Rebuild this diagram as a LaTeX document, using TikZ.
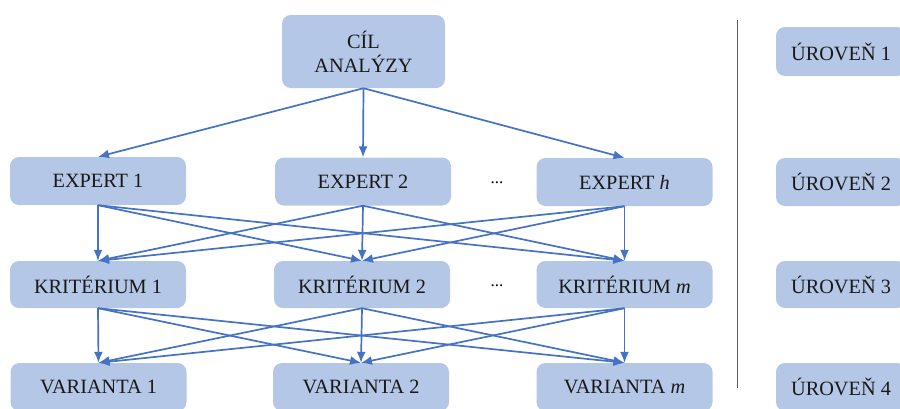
\documentclass[tikz,border=0pt]{standalone}
\usepackage{fontspec}
\setmainfont{Liberation Serif}
\usetikzlibrary{arrows.meta}
\definecolor{boxfill}{HTML}{B4C7E7}
\definecolor{arrowblue}{HTML}{4472C4}
\begin{document}
\begin{tikzpicture}[x=1pt,y=-1pt,
  box/.style={fill=boxfill, rounded corners=9pt, minimum width=176pt, minimum height=48pt,
     inner sep=0pt, font=\fontsize{20.3}{24}\selectfont, text=black!90, align=center},
  lvl/.style={box, minimum width=130pt},
  conn/.style={draw=arrowblue, line width=1.7pt, -{Latex[length=11pt,width=9pt]}},
  dots/.style={font=\fontsize{17}{20}\selectfont, inner sep=0pt}
]
\useasboundingbox (0,0) rectangle (900,408);
\clip (0,0) rectangle (900,408);
% nodes
\node[box, minimum width=163pt, minimum height=73pt] (goal) at (363.5,51.5) {CÍL\\ANALÝZY};
\node[box] (e1) at (98,181) {EXPERT 1};
\node[box] (e2) at (363,181.5) {EXPERT 2};
\node[box] (eh) at (624.5,182) {EXPERT \textit{h}};
\node[box, minimum height=47pt] (k1) at (98,284.5) {KRITÉRIUM 1};
\node[box, minimum height=47pt] (k2) at (362,284.5) {KRITÉRIUM 2};
\node[box, minimum height=47pt] (km) at (624.5,284.5) {KRITÉRIUM \textit{m}};
\node[box] (v1) at (98.5,387) {VARIANTA 1};
\node[box] (v2) at (361,387) {VARIANTA 2};
\node[box] (vm) at (624.5,387) {VARIANTA \textit{m}};
\node[dots] (d1) at (497,183) {...};
\node[dots] (d2) at (497,285.5) {...};
\node[lvl, minimum height=49pt] (u1) at (841,51.5) {ÚROVEŇ 1};
\node[lvl] (u2) at (841,182) {ÚROVEŇ 2};
\node[lvl, minimum height=47pt] (u3) at (841,284.5) {ÚROVEŇ 3};
\node[lvl] (u4) at (841,387) {ÚROVEŇ 4};
% separator
\coordinate (s1) at (737,20);
\coordinate (s2) at (737,388);
\draw[black!65, line width=1pt] (s1) -- (s2);
% connectors
\foreach \t in {e1,e2,eh} \draw[conn] (goal.south) -- (\t.north);
\foreach \s in {e1,e2,eh}
  \foreach \t in {k1,k2,km} \draw[conn] (\s.south) -- (\t.north);
\foreach \s in {k1,k2,km}
  \foreach \t in {v1,v2,vm} \draw[conn] (\s.south) -- (\t.north);
\end{tikzpicture}
\end{document}
